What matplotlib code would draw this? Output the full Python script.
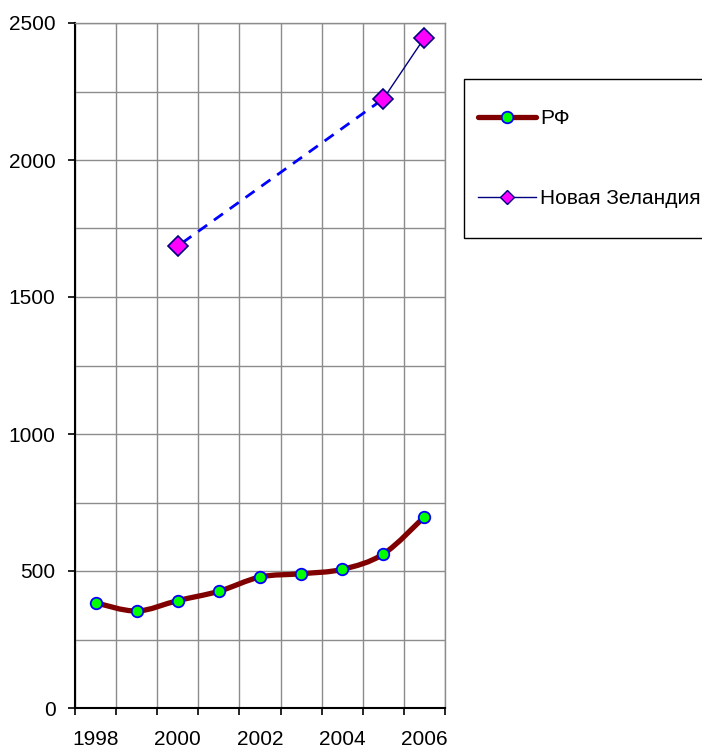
import numpy as np
import matplotlib
matplotlib.use("Agg")
import matplotlib.pyplot as plt
from matplotlib.path import Path
from matplotlib.patches import PathPatch, Rectangle
from matplotlib.lines import Line2D

plt.rcParams['font.family'] = ['Liberation Sans', 'DejaVu Sans']

# ----------------- data -----------------
years = [1998, 1999, 2000, 2001, 2002, 2003, 2004, 2005, 2006]
rf_values = [384, 354, 392, 426, 478, 490, 506, 562, 698]
nz_values = [np.nan, np.nan, 1686, np.nan, np.nan, np.nan, np.nan, 2223, 2446]
year_labels = ["1998", "2000", "2002", "2004", "2006"]
series_names = ["РФ", "Новая Зеландия"]

grid_col = "#8c8c8c"


def smooth_path(xs, ys):
    # cubic bezier through points (Excel-like smoothed line)
    xs = np.asarray(xs, float)
    ys = np.asarray(ys, float)
    n = len(xs)
    verts = [(xs[0], ys[0])]
    codes = [Path.MOVETO]
    for i in range(n - 1):
        p0 = np.array([xs[max(i - 1, 0)], ys[max(i - 1, 0)]])
        p1 = np.array([xs[i], ys[i]])
        p2 = np.array([xs[i + 1], ys[i + 1]])
        p3 = np.array([xs[min(i + 2, n - 1)], ys[min(i + 2, n - 1)]])
        c1 = p1 + (p2 - p0) / 6.0
        c2 = p2 - (p3 - p1) / 6.0
        verts += [tuple(c1), tuple(c2), tuple(p2)]
        codes += [Path.CURVE4, Path.CURVE4, Path.CURVE4]
    return Path(verts, codes)


fig = plt.figure(figsize=(7.02, 7.49), dpi=100)
ax = fig.add_axes([75 / 702, 1 - 708 / 749, 370 / 702, 685 / 749])

x = np.arange(len(years))
nz = np.array(nz_values, float)

# ----------------- РФ -----------------
ax.add_patch(PathPatch(smooth_path(x, rf_values), facecolor="none",
                       edgecolor="#800000", lw=3.8, capstyle="round",
                       joinstyle="round", zorder=3))
ax.plot(x, rf_values, ls="none", marker="o", ms=8.3, mfc="#00ff00",
        mec="#0000ff", mew=1.3, zorder=4)

# ----------------- Новая Зеландия -----------------
ok = ~np.isnan(nz)
xv, yv = x[ok], nz[ok]
ax.plot(xv[:2], yv[:2], color="#0000ff", lw=2.0, ls=(5, (4, 3)), zorder=3)
ax.plot(x, nz, color="#000080", lw=1.0, zorder=3)
ax.plot(xv, yv, ls="none", marker="D", ms=10.5, mfc="#ff00ff",
        mec="#000080", mew=1.2, zorder=4)

# ----------------- axes -----------------
ax.set_xlim(-0.5, len(years) - 0.5)
ax.set_ylim(0, 2500)

ax.set_yticks(np.arange(0, 2501, 500))
ax.set_yticks(np.arange(250, 2500, 500), minor=True)
ax.tick_params(axis="y", which="major", length=5, width=1.2, pad=9,
               labelsize=15, direction="out")
ax.tick_params(axis="y", which="minor", length=0)

ax.set_xticks(np.arange(-0.5, len(years), 1.0))
ax.set_xticklabels([])
ax.set_xticks(x[::2], minor=True)
ax.set_xticklabels(year_labels, minor=True)
ax.tick_params(axis="x", which="major", length=5, width=1.2, direction="out")
ax.tick_params(axis="x", which="minor", length=0, pad=16, labelsize=15)

ax.grid(True, which="both", axis="y", color=grid_col, lw=1.0)
ax.grid(True, which="major", axis="x", color=grid_col, lw=1.0)
ax.set_axisbelow(True)

for side in ("top", "right"):
    ax.spines[side].set_color(grid_col)
    ax.spines[side].set_linewidth(1.0)
for side in ("left", "bottom"):
    ax.spines[side].set_color("black")
    ax.spines[side].set_linewidth(1.5)

# ----------------- legend -----------------
fig.patches.append(Rectangle((464 / 702, 1 - 238 / 749), 260 / 702, 159 / 749,
                             transform=fig.transFigure, facecolor="white",
                             edgecolor="black", lw=1.0))
handles = [
    Line2D([], [], color="#800000", lw=3.8, solid_capstyle="round",
           marker="o", ms=8.3, mfc="#00ff00", mec="#0000ff", mew=1.3),
    Line2D([], [], color="#000080", lw=1.0,
           marker="D", ms=7, mfc="#ff00ff", mec="#000080", mew=1.0),
]
fig.legend(handles, series_names, loc="upper left",
           bbox_to_anchor=(478 / 702, 1 - 109 / 749), frameon=False,
           fontsize=15, handlelength=2.8, handletextpad=0.2,
           labelspacing=2.95, borderpad=0, borderaxespad=0)

fig.savefig("out.png", dpi=100)
